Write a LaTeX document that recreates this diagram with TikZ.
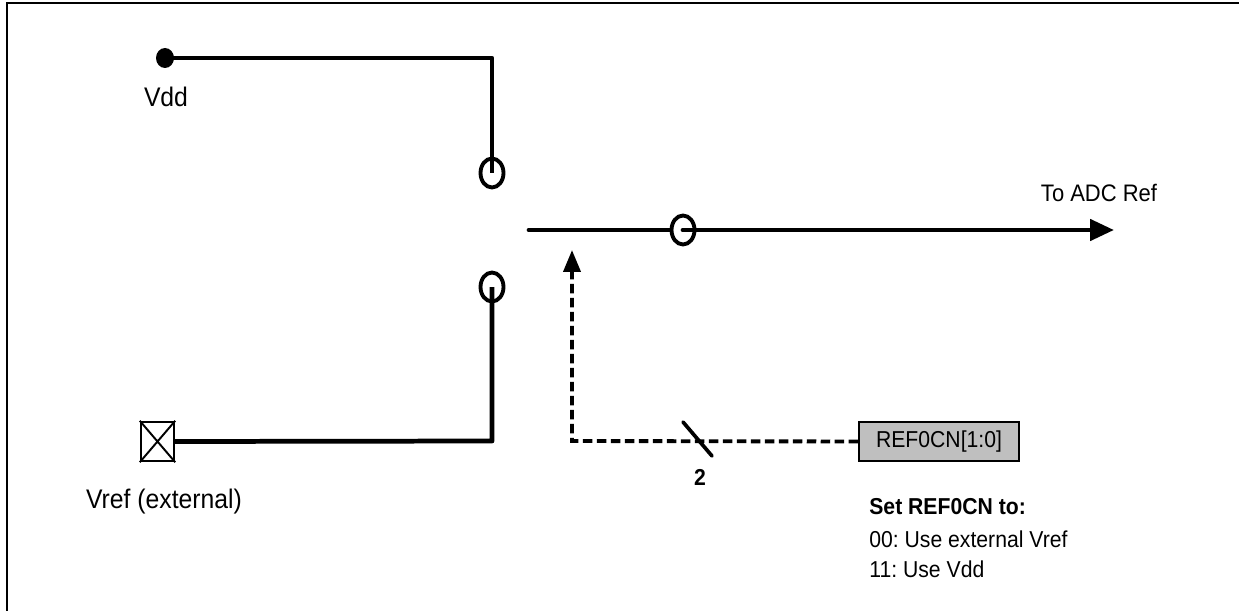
\documentclass[tikz,border=0pt]{standalone}
\usepackage{fontspec}
\setmainfont[FakeStretch=0.92]{Liberation Sans}
\usetikzlibrary{arrows.meta, positioning, shapes.geometric}

\begin{document}
\frenchspacing
\begin{tikzpicture}[x=0.02cm,y=-0.02cm,
    wire/.style={line width=2.7pt},
    ctrl/.style={line width=2.2pt,dash pattern=on 0.19cm off 0.09cm},
    tap/.style={draw,ellipse,line width=2.2pt,inner sep=0pt,minimum width=0.46cm,minimum height=0.58cm},
    lbl/.style={inner sep=0pt,font=\fontsize{15.3pt}{17pt}\selectfont},
    note/.style={inner sep=0pt,anchor=west,font=\fontsize{13.1pt}{15pt}\selectfont}]

    \useasboundingbox (0,0) rectangle (1239,611);
    \draw[line width=1.4pt] (7,611) -- (7,3) -- (1239,3);

    % inputs
    \node[ellipse,fill,inner sep=0pt,minimum width=0.36cm,minimum height=0.4cm] (vdd) at (165,58) {};
    \node[lbl] (vdd_txt) at (166,97) {Vdd};
    \node[draw,line width=1.4pt,inner sep=0pt,minimum width=0.66cm,minimum height=0.78cm] (pad) at (157.5,441.5) {};
    \draw[line width=1.1pt] (pad.north west) -- (pad.south east) (pad.north east) -- (pad.south west);
    \node[lbl] (pad_txt) at (164,502) {Vref (external)};

    % switch
    \node[tap] (tap_a) at (492,173) {};
    \node[tap] (tap_b) at (492,287) {};
    \node[tap] (tap_c) at (683,230) {};
    \coordinate (bend_a) at (492,58);
    \coordinate (bend_b) at (492,441);
    \coordinate (out_l) at (529,230);
    \coordinate (out_r) at (1114,230);

    \draw[wire,line join=round] (vdd.center) -- (bend_a) -- (tap_a.center);
    \draw[wire,line join=round] (pad.east) -- (bend_b) -- (tap_b.center);
    \draw[wire,line cap=round] (out_l) -- (tap_c.west);
    \draw[wire,line cap=round,-{Triangle[length=0.48cm,width=0.42cm]}] (tap_c.center) -- (out_r);
    \node[note,anchor=center,font=\fontsize{13.6pt}{15pt}\selectfont] (out_txt) at (1099,193) {To ADC Ref};

    % select
    \node[draw,line width=0.9pt,fill=black!25,inner sep=0pt,minimum width=3.2cm,minimum height=0.78cm,
          font=\fontsize{13.1pt}{15pt}\selectfont] (sfr) at (939,441.5) {REF0CN[1:0]};
    \coordinate (bend_c) at (572,441);
    \coordinate (sel_tip) at (572,250);
    \draw[ctrl,-{Triangle[length=0.44cm,width=0.34cm]}] (sfr.west) -- (bend_c) -- (sel_tip);
    \coordinate (bus_a) at (683,422);
    \coordinate (bus_b) at (712,456);
    \draw[line width=2.1pt,line cap=round] (bus_a) -- (bus_b);
    \node[note,anchor=center,font=\fontsize{13.1pt}{15pt}\selectfont\bfseries] (bus_txt) at (700,477) {2};

    \node[note,font=\fontsize{13.1pt}{15pt}\selectfont\bfseries] (set_txt) at (869,507) {Set REF0CN to:};
    \node[note] (opt_a) at (869,539) {00: Use external Vref};
    \node[note] (opt_b) at (869,569) {11: Use Vdd};
\end{tikzpicture}
\end{document}
